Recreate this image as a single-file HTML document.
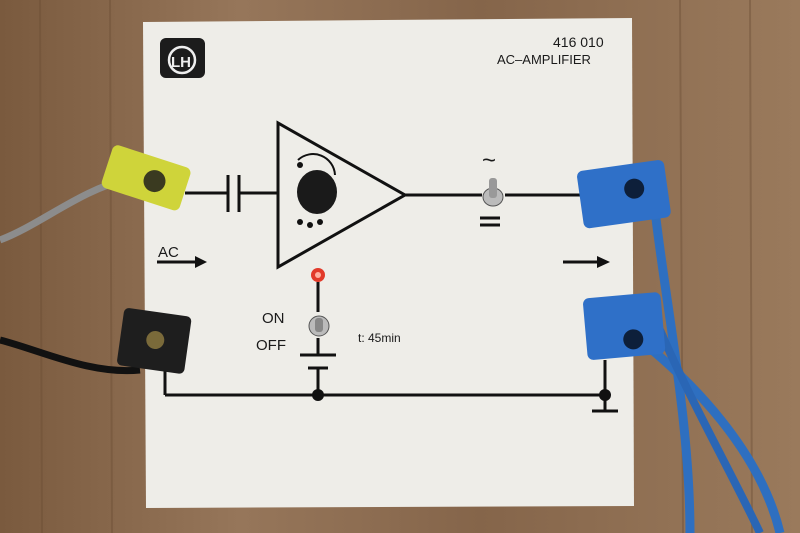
<!DOCTYPE html>
<html><head><meta charset="utf-8"><style>
html,body{margin:0;padding:0;width:800px;height:533px;overflow:hidden;background:#8d6b4c}
svg{display:block}
text{font-family:"Liberation Sans",sans-serif;fill:#1a1a1a}
</style></head><body>
<svg width="800" height="533" viewBox="0 0 800 533">
<defs>
<linearGradient id="wood" x1="0" x2="1" y1="0" y2="0">
<stop offset="0" stop-color="#7a5a3e"/><stop offset="0.3" stop-color="#96765a"/>
<stop offset="0.6" stop-color="#85654a"/><stop offset="1" stop-color="#9a7a5c"/>
</linearGradient>
</defs>
<rect width="800" height="533" fill="url(#wood)"/>
<g stroke="#6a4c34" stroke-width="2" opacity="0.4">
<line x1="40" y1="0" x2="42" y2="533"/><line x1="110" y1="0" x2="112" y2="533"/>
<line x1="680" y1="0" x2="683" y2="533"/><line x1="750" y1="0" x2="752" y2="533"/>
</g>
<!-- panel -->
<path d="M143,22 L632,18 L634,506 L146,508 Z" fill="#eeede8"/>
<!-- logo -->
<rect x="160" y="38" width="45" height="40" rx="6" fill="#1c1c1c"/>
<circle cx="182" cy="60" r="13" fill="none" stroke="#eee" stroke-width="2.5"/>
<text x="171" y="67" font-size="15" font-weight="bold" style="fill:#eee">LH</text>
<text x="553" y="47" font-size="14">416  010</text>
<text x="497" y="64" font-size="13">AC–AMPLIFIER</text>
<!-- circuit lines -->
<g stroke="#111" stroke-width="3" fill="none">
<line x1="185" y1="193" x2="228" y2="193"/>
<line x1="228" y1="175" x2="228" y2="212"/>
<line x1="239" y1="175" x2="239" y2="212"/>
<line x1="239" y1="193" x2="278" y2="193"/>
<path d="M278,123 L278,267 L405,195 Z"/>
<line x1="405" y1="195" x2="482" y2="195"/>
<line x1="505" y1="195" x2="590" y2="195"/>
<line x1="318" y1="282" x2="318" y2="312"/>
<line x1="318" y1="338" x2="318" y2="355"/>
<line x1="300" y1="355" x2="336" y2="355"/>
<line x1="308" y1="368" x2="328" y2="368"/>
<line x1="318" y1="368" x2="318" y2="395"/>
<line x1="165" y1="360" x2="165" y2="395"/>
<line x1="165" y1="395" x2="605" y2="395"/>
<line x1="605" y1="360" x2="605" y2="410"/>
<line x1="592" y1="411" x2="618" y2="411"/>
<line x1="157" y1="262" x2="195" y2="262"/>
<line x1="563" y1="262" x2="597" y2="262"/>
<line x1="480" y1="218" x2="500" y2="218"/>
<line x1="480" y1="225" x2="500" y2="225"/>
<path d="M298,160 A22,22 0 0 1 335,175" stroke-width="2"/>
</g>
<polygon points="195,256 207,262 195,268" fill="#111"/>
<polygon points="597,256 610,262 597,268" fill="#111"/>
<circle cx="318" cy="395" r="6" fill="#111"/>
<circle cx="605" cy="395" r="6" fill="#111"/>
<circle cx="300" cy="165" r="3" fill="#111"/>
<circle cx="300" cy="222" r="3" fill="#111"/><circle cx="310" cy="225" r="3" fill="#111"/><circle cx="320" cy="222" r="3" fill="#111"/>
<!-- knob -->
<ellipse cx="317" cy="192" rx="20" ry="22" fill="#1a1a1a"/>
<!-- toggle switch -->
<ellipse cx="493" cy="197" rx="10" ry="9" fill="#bbb" stroke="#555"/>
<rect x="489" y="178" width="8" height="20" rx="3" fill="#999"/>
<text x="482" y="168" font-size="24">~</text>
<!-- LED & switch -->
<circle cx="318" cy="275" r="7" fill="#e23a2a"/>
<circle cx="318" cy="275" r="3" fill="#ffb0a0"/>
<ellipse cx="319" cy="326" rx="10" ry="10" fill="#bbb" stroke="#555"/>
<rect x="315" y="318" width="8" height="14" rx="3" fill="#888"/>
<text x="262" y="323" font-size="15">ON</text>
<text x="256" y="350" font-size="15">OFF</text>
<text x="358" y="342" font-size="12">t: 45min</text>
<text x="158" y="257" font-size="15">AC</text>
<!-- cables -->
<path d="M0,240 C40,225 80,190 130,178" stroke="#8c8c8c" stroke-width="7" fill="none"/>
<path d="M0,340 C40,350 90,375 140,370" stroke="#111" stroke-width="7" fill="none"/>
<path d="M655,210 C665,300 690,420 690,533" stroke="#2e6fc0" stroke-width="9" fill="none"/>
<path d="M640,340 C690,380 760,450 780,533" stroke="#2e6fc0" stroke-width="9" fill="none"/>
<path d="M660,330 C690,400 730,470 760,533" stroke="#2a66b5" stroke-width="8" fill="none"/>
<!-- yellow connector -->
<g transform="rotate(18 145 178)">
<rect x="105" y="155" width="82" height="45" rx="6" fill="#cfd43a"/>
<circle cx="155" cy="178" r="11" fill="#3a3a20"/>
</g>
<!-- black connector -->
<g transform="rotate(8 155 342)">
<rect x="120" y="312" width="68" height="58" rx="5" fill="#1e1e1e"/>
<circle cx="155" cy="340" r="9" fill="#7a6a3a"/>
</g>
<!-- blue connectors -->
<g transform="rotate(-8 625 195)">
<rect x="580" y="165" width="88" height="58" rx="6" fill="#2f70c8"/>
<circle cx="635" cy="190" r="10" fill="#0d1f3a"/>
</g>
<g transform="rotate(-5 625 325)">
<rect x="585" y="295" width="78" height="62" rx="6" fill="#2f70c8"/>
<circle cx="632" cy="340" r="10" fill="#0d1f3a"/>
</g>
</svg>
</body></html>
